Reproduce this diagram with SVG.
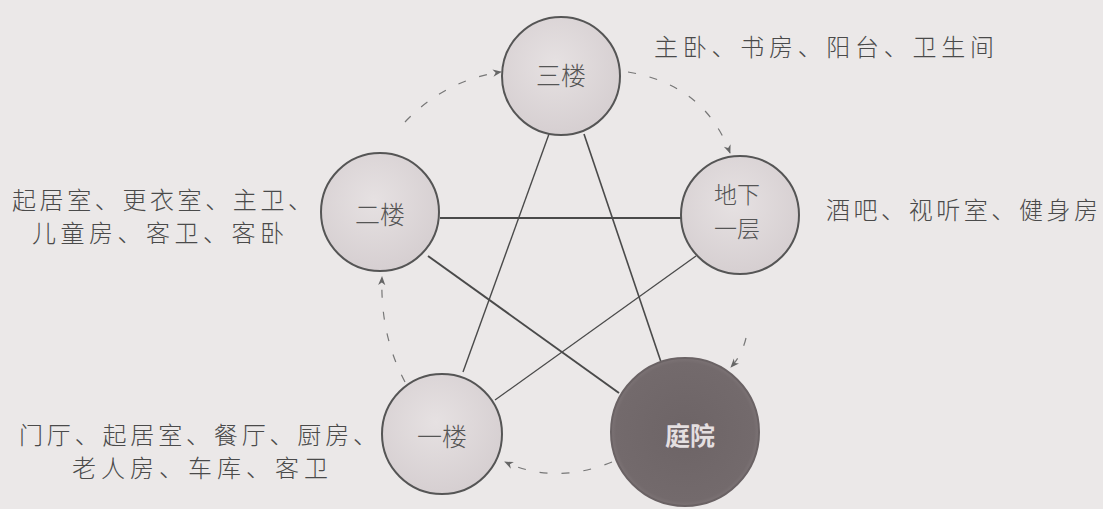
<svg xmlns="http://www.w3.org/2000/svg" width="1103" height="509" viewBox="0 0 1103 509">
<style>
.bg{fill:#ebe8e8}
.node{fill:url(#g1);stroke:#555;stroke-width:2}
.dark{fill:url(#g2);stroke:#6a6264;stroke-width:2}
.lbl{font-family:"Noto Sans CJK SC","Noto Sans CJK JP",sans-serif;font-size:24px;fill:#4a4a4a;font-weight:300}
.nt{font-family:"Noto Sans CJK SC","Noto Sans CJK JP",sans-serif;font-size:25px;fill:#555;font-weight:300;text-anchor:middle}
.edge{stroke:#4a4a4a;fill:none}
.arc{stroke:#777;fill:none;stroke-width:1.2;stroke-dasharray:8 14}
</style>
<defs>
<radialGradient id="g1" cx="0.45" cy="0.4" r="0.6">
<stop offset="0" stop-color="#e6e1e2"/>
<stop offset="1" stop-color="#d6cfd1"/>
</radialGradient>
<radialGradient id="g2" cx="0.5" cy="0.5" r="0.55">
<stop offset="0" stop-color="#6d6466"/>
<stop offset="0.85" stop-color="#736a6c"/>
<stop offset="1" stop-color="#8a8183"/>
</radialGradient>
<marker id="ah" viewBox="0 0 10 10" refX="9" refY="5" markerWidth="9" markerHeight="9" markerUnits="userSpaceOnUse" orient="auto">
<path d="M0,1 L10,5 L0,9 L3,5 Z" fill="#666"/>
</marker>
</defs>
<rect class="bg" x="0" y="0" width="1103" height="509"/>
<g id="connectors">
<line class="edge" stroke-width="2" x1="440" y1="218" x2="682" y2="218"/>
<line class="edge" stroke-width="1.4" x1="549" y1="134" x2="463" y2="372"/>
<line class="edge" stroke-width="1.6" x1="584" y1="134" x2="661" y2="362"/>
<line class="edge" stroke-width="2" x1="428" y1="256" x2="619" y2="393"/>
<line class="edge" stroke-width="1.3" x1="696" y1="256" x2="495" y2="400"/>
<path class="arc" d="M405,382 Q380,335 382,277" marker-end="url(#ah)"/>
<path class="arc" d="M405,122 Q445,80 501,72" marker-end="url(#ah)"/>
<path class="arc" d="M628,72 Q705,85 730,153" marker-end="url(#ah)"/>
<path class="arc" d="M746,338 Q742,355 731,367" marker-end="url(#ah)"/>
<path class="arc" d="M612,462 Q555,485 505,462" marker-end="url(#ah)"/>
</g>
<g id="node-3f">
<circle class="node" cx="561" cy="76" r="59"/>
<text class="nt" x="561" y="85">三楼</text>
</g>
<g id="node-b1">
<circle class="node" cx="740" cy="215" r="59"/>
<text class="nt" x="737" y="203" style="font-size:23px">地下</text>
<text class="nt" x="737" y="237" style="font-size:23px">一层</text>
</g>
<g id="node-2f">
<circle class="node" cx="380" cy="212" r="59"/>
<text class="nt" x="380" y="224">二楼</text>
</g>
<g id="node-1f">
<circle class="node" cx="442" cy="434" r="60"/>
<text class="nt" x="442" y="446">一楼</text>
</g>
<g id="node-yard">
<circle class="dark" cx="685" cy="432" r="74"/>
<text class="nt" x="690" y="445" style="fill:#e4dfe0;font-weight:700">庭院</text>
</g>
<g id="labels">
<text class="lbl" x="654" y="56" textLength="340" lengthAdjust="spacing">主卧、书房、阳台、卫生间</text>
<text class="lbl" x="826" y="219" textLength="272" lengthAdjust="spacing">酒吧、视听室、健身房</text>
<text class="lbl" x="12" y="209" textLength="300" lengthAdjust="spacing">起居室、更衣室、主卫、</text>
<text class="lbl" x="32" y="242" textLength="252" lengthAdjust="spacing">儿童房、客卫、客卧</text>
<text class="lbl" x="19" y="444" textLength="358" lengthAdjust="spacing">门厅、起居室、餐厅、厨房、</text>
<text class="lbl" x="72" y="477" textLength="256" lengthAdjust="spacing">老人房、车库、客卫</text>
</g>
</svg>
